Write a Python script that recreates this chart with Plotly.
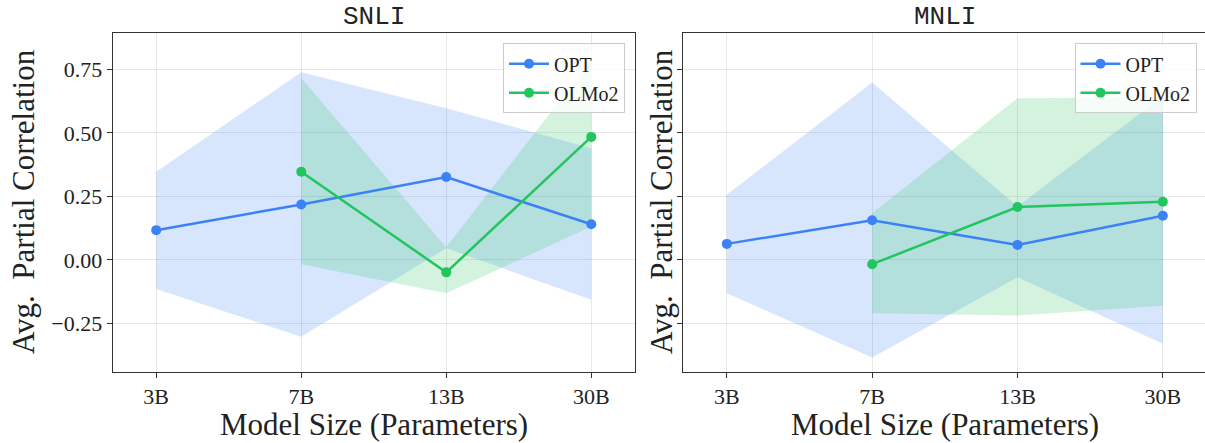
import plotly.graph_objects as go

# ---------------- data ----------------
sizes = ["3B", "7B", "13B", "30B"]
olmo_sizes = ["7B", "13B", "30B"]

snli_opt_mean = [0.117, 0.218, 0.326, 0.140]
snli_opt_upper = [0.347, 0.738, 0.597, 0.439]
snli_opt_lower = [-0.115, -0.302, 0.046, -0.157]
snli_olmo_mean = [0.347, -0.049, 0.484]
snli_olmo_upper = [0.715, 0.050, 0.787]
snli_olmo_lower = [-0.017, -0.131, 0.131]

mnli_opt_mean = [0.063, 0.156, 0.059, 0.174]
mnli_opt_upper = [0.256, 0.698, 0.210, 0.645]
mnli_opt_lower = [-0.131, -0.384, -0.068, -0.330]
mnli_olmo_mean = [-0.017, 0.208, 0.229]
mnli_olmo_upper = [0.184, 0.636, 0.640]
mnli_olmo_lower = [-0.210, -0.219, -0.180]

y_tickvals = [-0.25, 0.0, 0.25, 0.50, 0.75]
y_ticktext = ["\u22120.25", "0.00", "0.25", "0.50", "0.75"]

panel_titles = ["SNLI", "MNLI"]
series_names = ["OPT", "OLMo2"]
x_title = "Model Size (Parameters)"
y_title = "Avg.  Partial Correlation"

# ---------------- style ----------------
BLUE = "#3b82f6"
GREEN = "#22c55e"
BLUE_FILL = "rgba(59,130,246,0.2)"
GREEN_FILL = "rgba(34,197,94,0.2)"
SERIF = "Liberation Serif, Times New Roman, serif"
MONO = "Liberation Mono, DejaVu Sans Mono, monospace"
W, H = 1205, 443

fig = go.Figure()


def idx(cats):
    return [sizes.index(c) for c in cats]


def add_panel(xa, ya, legend, opt_mean, opt_up, opt_lo, olmo_mean, olmo_up, olmo_lo):
    xo = idx(sizes)
    xl = idx(olmo_sizes)
    fig.add_trace(go.Scatter(x=xo + xo[::-1], y=opt_up + opt_lo[::-1], fill="toself",
                             fillcolor=BLUE_FILL, line=dict(width=0), mode="lines",
                             showlegend=False, hoverinfo="skip", xaxis=xa, yaxis=ya))
    fig.add_trace(go.Scatter(x=xl + xl[::-1], y=olmo_up + olmo_lo[::-1], fill="toself",
                             fillcolor=GREEN_FILL, line=dict(width=0), mode="lines",
                             showlegend=False, hoverinfo="skip", xaxis=xa, yaxis=ya))
    fig.add_trace(go.Scatter(x=xo, y=opt_mean, mode="lines+markers", name=series_names[0],
                             line=dict(color=BLUE, width=2.5), marker=dict(size=10, color=BLUE),
                             xaxis=xa, yaxis=ya, legend=legend))
    fig.add_trace(go.Scatter(x=xl, y=olmo_mean, mode="lines+markers", name=series_names[1],
                             line=dict(color=GREEN, width=2.5), marker=dict(size=10, color=GREEN),
                             xaxis=xa, yaxis=ya, legend=legend))


add_panel("x", "y", "legend", snli_opt_mean, snli_opt_upper, snli_opt_lower,
          snli_olmo_mean, snli_olmo_upper, snli_olmo_lower)
add_panel("x2", "y2", "legend2", mnli_opt_mean, mnli_opt_upper, mnli_opt_lower,
          mnli_olmo_mean, mnli_olmo_upper, mnli_olmo_lower)

# pixel geometry
p1_left, p1_right = 112.7, 634.8
p2_left = 683.2
top_px, bot_px = 32.7, 371.7
ydom = [(H - bot_px) / H, (H - top_px) / H]

axis_common = dict(showline=True, linecolor="#333333", linewidth=1.2, ticks="outside",
                   ticklen=5, tickwidth=1, tickcolor="#333333", showgrid=True,
                   gridcolor="rgba(0,0,0,0.09)", gridwidth=1, zeroline=False,
                   automargin=False,
                   tickfont=dict(family=SERIF, size=22, color="#222222"))

legend_common = dict(y=(H - 43.3) / H, yanchor="top", xanchor="right",
                     bgcolor="rgba(255,255,255,0.8)", bordercolor="#cccccc", borderwidth=1,
                     itemwidth=40, tracegroupgap=0,
                     font=dict(family=SERIF, size=20, color="#222222"))

fig.update_layout(
    template="none",
    width=W, height=H, margin=dict(l=0, r=0, t=0, b=0, autoexpand=False),
    paper_bgcolor="white", plot_bgcolor="white",
    showlegend=True,
    xaxis=dict(domain=[p1_left / W, p1_right / W], range=[-0.3, 3.3],
               tickvals=idx(sizes), ticktext=sizes, mirror=True, anchor="y", **axis_common),
    yaxis=dict(domain=ydom, range=[-0.44, 0.894], tickvals=y_tickvals, ticktext=y_ticktext,
               mirror=True, anchor="x", **axis_common),
    xaxis2=dict(domain=[p2_left / W, 1.0], range=[-0.3, 3.29],
                tickvals=idx(sizes), ticktext=sizes, mirror=True, anchor="y2", **axis_common),
    yaxis2=dict(domain=ydom, range=[-0.44, 0.894], tickvals=y_tickvals, ticktext=y_ticktext,
                showticklabels=False, mirror=False, anchor="x2", matches="y", **axis_common),
    legend=dict(x=625 / W, **legend_common),
    legend2=dict(x=1196.5 / W, **legend_common),
)

p1_center = (p1_left + p1_right) / 2
p2_center = (p2_left + 1206.6) / 2
annots = [
    dict(text=panel_titles[0], x=p1_center / W, y=(H - 17.5) / H, font=dict(family=MONO, size=26)),
    dict(text=panel_titles[1], x=p2_center / W, y=(H - 17.5) / H, font=dict(family=MONO, size=26)),
    dict(text=x_title, x=p1_center / W, y=(H - 424.5) / H, font=dict(family=SERIF, size=31)),
    dict(text=x_title, x=p2_center / W, y=(H - 424.5) / H, font=dict(family=SERIF, size=31)),
    dict(text=y_title, x=23 / W, y=(H - 202) / H, textangle=-90, font=dict(family=SERIF, size=31)),
    dict(text=y_title, x=661 / W, y=(H - 202) / H, textangle=-90, font=dict(family=SERIF, size=31)),
]
for a in annots:
    a["font"]["color"] = "#222222"
    fig.add_annotation(xref="paper", yref="paper", xanchor="center", yanchor="middle",
                       showarrow=False, **a)

fig.write_html("out.html", config={"displayModeBar": False},
               post_script="document.body.style.margin='0';document.body.style.overflow='hidden';")
